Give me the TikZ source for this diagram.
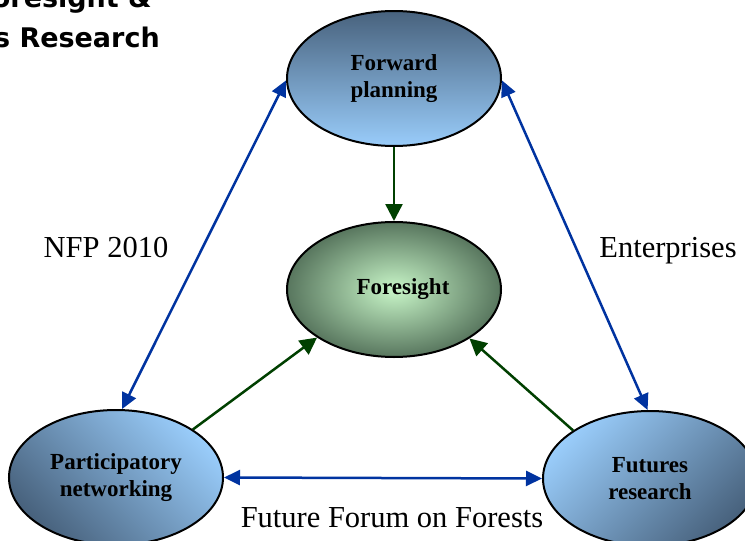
\documentclass[tikz,border=0pt]{standalone}
\usepackage{fontspec}
\setmainfont{Liberation Serif}
\newfontfamily\titlefont{DejaVu Sans}
\usetikzlibrary{shapes.geometric,arrows.meta}
\definecolor{bdark}{RGB}{72,98,125}
\definecolor{blight}{RGB}{153,204,250}
\definecolor{gin}{RGB}{200,246,200}
\definecolor{gout}{RGB}{88,118,94}
\definecolor{arrblue}{RGB}{0,51,160}
\definecolor{arrgreen}{RGB}{0,64,0}
\tikzset{
  oval/.style={ellipse, draw=black, line width=2pt, minimum width=214pt, minimum height=135pt, inner sep=0pt, align=center, font=\fontsize{23}{27}\selectfont\bfseries},
  bluearr/.style={draw=arrblue, line width=2.5pt, {Triangle[length=16pt,width=15pt]}-{Triangle[length=16pt,width=15pt]}},
  greenarr/.style={draw=arrgreen, line width=2.5pt, -{Triangle[length=17pt,width=17pt]}},
  lbl/.style={font=\fontsize{30.5}{34}\selectfont, anchor=base, inner sep=0pt},
  ttl/.style={font=\titlefont\bfseries\fontsize{27}{32}\selectfont, anchor=base east, inner sep=0pt}
}
\begin{document}
\begin{tikzpicture}[x=1pt,y=-1pt]
\clip (0,0) rectangle (745,541);
\fill[white] (0,0) rectangle (745,541);
\node[ttl] (t1) at (152,7) {Foresight \&};
\node[ttl] (t2) at (160,47) {Futures Research};
\node[oval, top color=bdark, bottom color=blight] (fp) at (394,78.5) {Forward\\planning};
\node[oval, inner color=gin, outer color=gout] (fs) at (394,289.5) {\hspace*{18pt}Foresight};
\node[oval, top color=blight, bottom color=bdark, shading angle=-45] (pn) at (116,477.5) {Participatory\\networking};
\node[oval, top color=blight, bottom color=bdark, shading angle=45] (fr) at (650,478.5) {Futures\\research};
\node[lbl] (l1) at (106,257) {NFP 2010};
\node[lbl] (l2) at (668,257) {Enterprises};
\node[lbl] (l3) at (392,527) {Future Forum on Forests};
\draw[bluearr] (fp.181) -- (pn.85);
\draw[bluearr] (fp.359) -- (fr.92);
\draw[bluearr] (pn.0) -- (fr.180);
\draw[greenarr] (fp.270) -- (fs.90);
\draw[greenarr] (pn.32) -- (fs.212);
\draw[greenarr] (fr.148) -- (fs.327);
\end{tikzpicture}
\end{document}
